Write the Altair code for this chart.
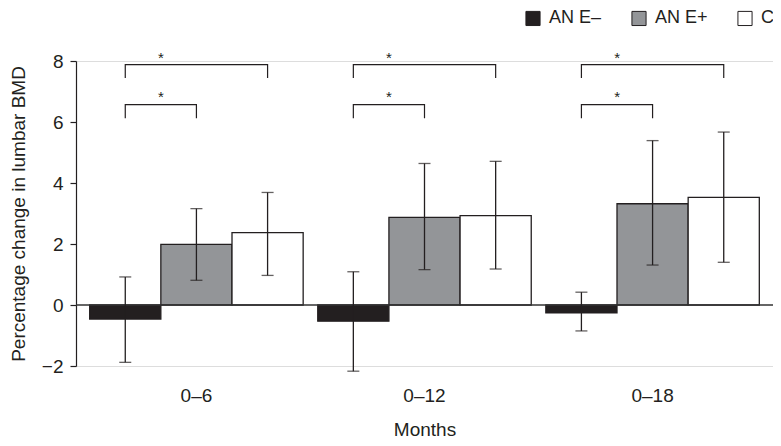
import altair as alt
import pandas as pd

months = ["0–6", "0–12", "0–18"]
groups = ["AN E–", "AN E+", "C"]
colors = ["#231f20", "#939598", "#ffffff"]

mean_ane_minus = [-0.46, -0.53, -0.26]
mean_ane_plus = [1.99, 2.87, 3.32]
mean_c = [2.37, 2.93, 3.53]

hi_ane_minus = [0.92, 1.09, 0.42]
hi_ane_plus = [3.16, 4.64, 5.39]
hi_c = [3.69, 4.71, 5.67]

lo_ane_minus = [-1.88, -2.17, -0.85]
lo_ane_plus = [0.81, 1.16, 1.31]
lo_c = [0.97, 1.18, 1.40]

# significance brackets: (from group, to group, top value, drop value, star value)
bracket_from = ["AN E–", "AN E–"]
bracket_to = ["C", "AN E+"]
bracket_top = [7.88, 6.57]
bracket_drop = [7.44, 6.12]
star_y = [8.23, 6.94]

means = [mean_ane_minus, mean_ane_plus, mean_c]
his = [hi_ane_minus, hi_ane_plus, hi_c]
los = [lo_ane_minus, lo_ane_plus, lo_c]

rows = []
for gi, g in enumerate(groups):
    for mi, m in enumerate(months):
        rows.append({"month": m, "group": g, "mean": means[gi][mi],
                     "lo": los[gi][mi], "hi": his[gi][mi]})
df = pd.DataFrame(rows)

brows = []
srows = []
for mi, m in enumerate(months):
    for bi in range(len(bracket_top)):
        bid = f"{m}-{bi}"
        pts = [(bracket_from[bi], bracket_drop[bi]), (bracket_from[bi], bracket_top[bi]),
               (bracket_to[bi], bracket_top[bi]), (bracket_to[bi], bracket_drop[bi])]
        for k, (g, v) in enumerate(pts):
            brows.append({"month": m, "group": g, "val": v, "order": k, "bid": bid})
        srows.append({"month": m, "group": "AN E+", "val": star_y[bi], "txt": "*"})
bdf = pd.DataFrame(brows)
sdf = pd.DataFrame(srows)

FONT = "Liberation Sans"
DARK = "#231f20"

xenc = alt.X("month:N", sort=months,
             scale=alt.Scale(paddingInner=0.064, paddingOuter=0.06),
             axis=alt.Axis(title="Months", labelAngle=0, domain=False, ticks=False,
                           labelFontSize=19, titleFontSize=19, labelPadding=20,
                           titlePadding=15, titleFontWeight="normal",
                           labelColor=DARK, titleColor=DARK))
xoff = alt.XOffset("group:N", sort=groups, scale=alt.Scale(paddingInner=0, paddingOuter=0))
yscale = alt.Scale(domain=[-2, 8], nice=False, zero=False)
yaxis = alt.Axis(values=[-2, 0, 2, 4, 6, 8], grid=False, tickSize=6, labelFontSize=19,
                 titleFontSize=19, titleFontWeight="normal", labelPadding=7,
                 titlePadding=13, domainColor=DARK, tickColor=DARK,
                 labelColor=DARK, titleColor=DARK, domainWidth=1.2, tickWidth=1.2)
ytitle = "Percentage change in lumbar BMD"

bars = alt.Chart(df).mark_bar(stroke=DARK, strokeWidth=1.3).encode(
    x=xenc, xOffset=xoff,
    y=alt.Y("mean:Q", scale=yscale, axis=yaxis, title=ytitle),
    color=alt.Color("group:N", sort=groups,
                    scale=alt.Scale(domain=groups, range=colors),
                    legend=alt.Legend(title=None)),
)

zero = alt.Chart(pd.DataFrame({"z": [0]})).mark_rule(color="#333333", strokeWidth=1.3).encode(
    y=alt.Y("z:Q", scale=yscale, title=ytitle)
)

err = alt.Chart(df).mark_rule(color=DARK, strokeWidth=1.3).encode(
    x=xenc, xOffset=xoff,
    y=alt.Y("lo:Q", scale=yscale, title=ytitle), y2="hi:Q",
)
cap_lo = alt.Chart(df).mark_tick(color=DARK, size=12, thickness=1.3).encode(
    x=xenc, xOffset=xoff, y=alt.Y("lo:Q", scale=yscale, title=ytitle),
)
cap_hi = alt.Chart(df).mark_tick(color=DARK, size=12, thickness=1.3).encode(
    x=xenc, xOffset=xoff, y=alt.Y("hi:Q", scale=yscale, title=ytitle),
)

brackets = alt.Chart(bdf).mark_line(color=DARK, strokeWidth=1.2).encode(
    x=xenc, xOffset=xoff,
    y=alt.Y("val:Q", scale=yscale, title=ytitle),
    order="order:Q", detail="bid:N",
)

stars = alt.Chart(sdf).mark_text(font=FONT, fontSize=15, color=DARK, dx=-35.5, dy=4,
                                  baseline="middle").encode(
    x=xenc, xOffset=xoff,
    y=alt.Y("val:Q", scale=yscale, title=ytitle),
    text="txt:N",
)

chart = alt.layer(bars, zero, err, cap_lo, cap_hi, brackets, stars).properties(
    width=697, height=305,
    autosize=alt.AutoSizeParams(type="none"),
    padding={"left": 68, "top": 53, "right": 0, "bottom": 72},
).configure_view(stroke=None).configure(font=FONT).configure_legend(
    orient="none", legendX=448, legendY=-52, direction="horizontal",
    symbolType="square", symbolSize=200, symbolStrokeColor=DARK, symbolStrokeWidth=1,
    labelFontSize=18, labelFont=FONT, labelColor=DARK, labelOffset=7, columnPadding=27,
)

chart.save("out.html", embed_options={"renderer": "svg", "actions": False})
